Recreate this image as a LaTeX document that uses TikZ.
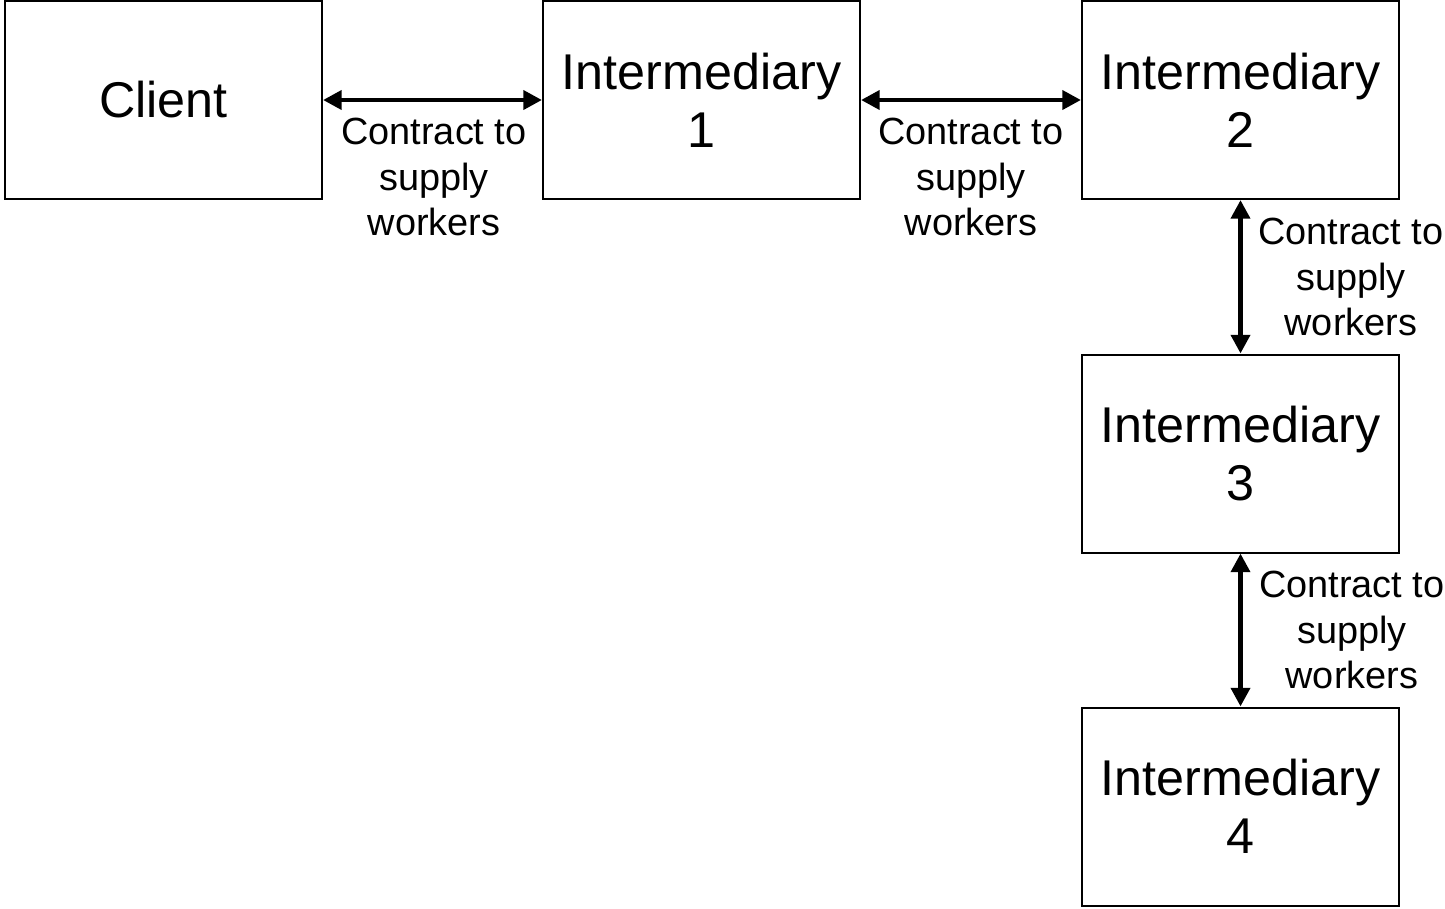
\documentclass[tikz,border=0pt]{standalone}
\usepackage{fontspec}
\setmainfont{Liberation Sans}
\usetikzlibrary{arrows.meta}

\tikzset{
  box/.style={draw, line width=1.5pt, inner sep=0pt, minimum width=237.75pt, minimum height=148.5pt,
    align=center, font=\fontsize{37.7}{43.5}\selectfont},
  contract/.style={line width=3.6pt, {Triangle[length=14pt,width=14pt]}-{Triangle[length=14pt,width=14pt]}},
  lbl/.style={inner sep=0pt, align=center, font=\fontsize{28.4}{34.1}\selectfont}
}

\begin{document}
\begin{tikzpicture}[x=0.75pt,y=0.75pt,yscale=-1,xscale=1]
\useasboundingbox (0,0) rectangle (1445,908); %set diagram to the size of the reference

%Shape: Rectangle
\node[box] (client) at (163.5,100) {Client};
%Shape: Rectangle
\node[box] (inter1) at (701.5,100) {Intermediary\\1};
%Shape: Rectangle
\node[box] (inter2) at (1240.5,100) {Intermediary\\2};
%Shape: Rectangle
\node[box] (inter3) at (1240.5,453.5) {Intermediary\\3};
%Shape: Rectangle
\node[box] (inter4) at (1240.5,806.5) {Intermediary\\4};

%Straight Lines
\draw[contract] (client) -- (inter1);
%Straight Lines
\draw[contract] (inter1) -- (inter2);
%Straight Lines
\draw[contract] (inter2) -- (inter3);
%Straight Lines
\draw[contract] (inter3) -- (inter4);

% Text Node
\node[lbl, anchor=north] (lbl1) at (434,118) {Contract to\\supply\\workers};
% Text Node
\node[lbl, anchor=north] (lbl2) at (971,118) {Contract to\\supply\\workers};
% Text Node
\node[lbl, anchor=west] (lbl3) at (1258,277) {Contract to\\supply\\workers};
% Text Node
\node[lbl, anchor=west] (lbl4) at (1259,630) {Contract to\\supply\\workers};
\end{tikzpicture}
\end{document}
